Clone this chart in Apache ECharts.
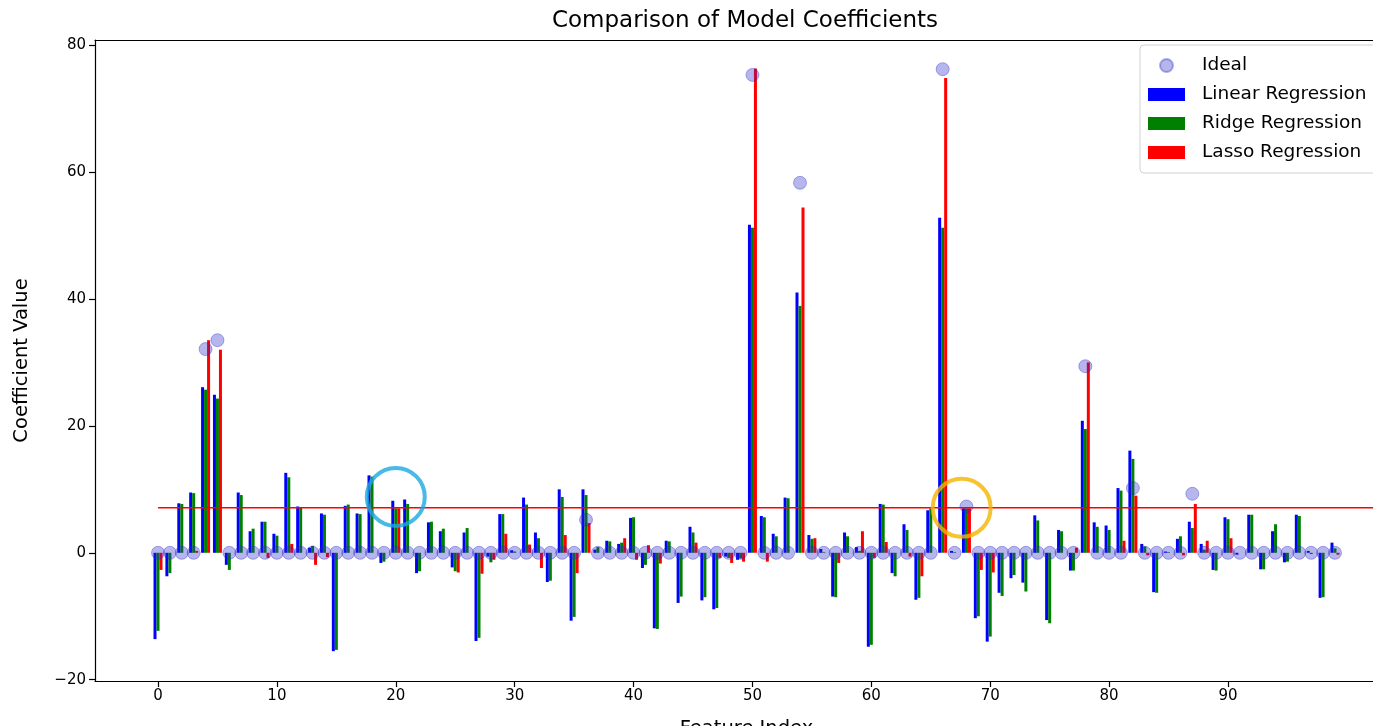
<!DOCTYPE html>
<html>
<head>
<meta charset="utf-8">
<script src="https://cdn.jsdelivr.net/npm/echarts@6/dist/echarts.min.js"></script>
<style>html,body{margin:0;padding:0;background:#fff;overflow:hidden;width:1373px;height:726px;}#c{width:1430px;height:726px;}</style>
</head>
<body>
<div id="c"></div>
<script>
// ---- data ----
const featureCount = 100;
const linearCoef = [-13.6,-3.7,7.8,9.5,26.1,24.9,-1.9,9.5,3.4,4.9,
  3.0,12.6,7.3,0.8,6.2,-15.5,7.4,6.2,12.2,-1.6,
  8.2,8.4,-3.2,4.8,3.4,-2.3,3.2,-13.9,-0.6,6.1,
  0.4,8.7,3.2,-4.6,10.0,-10.7,10.0,0.5,1.9,1.4,
  5.5,-2.4,-11.9,1.9,-7.9,4.1,-7.5,-8.9,-0.6,-1.1,
  51.7,5.8,3.0,8.7,41.0,2.8,0.6,-6.9,3.2,0.9,
  -14.8,7.7,-3.2,4.5,-7.4,6.7,52.8,0.3,7.0,-10.3,
  -14.0,-6.3,-4.0,-4.7,5.9,-10.6,3.6,-2.8,20.8,4.8,
  4.3,10.2,16.1,1.4,-6.2,0.2,2.2,4.9,1.4,-2.7,
  5.6,-0.3,6.0,-2.6,3.4,-1.5,6.0,0.3,-7.1,1.6];
const ridgeCoef = [-12.3,-3.2,7.7,9.4,25.7,24.3,-2.7,9.1,3.8,4.9,
  2.7,11.9,7.2,1.1,6.0,-15.3,7.6,6.1,12.0,-1.4,
  7.0,7.7,-2.9,4.9,3.8,-2.9,3.9,-13.4,-1.5,6.1,
  0.2,7.6,2.3,-4.4,8.8,-10.1,9.1,0.9,1.8,1.6,
  5.6,-1.9,-12.0,1.8,-6.9,3.2,-7.0,-8.7,-0.8,-0.9,
  51.2,5.6,2.6,8.6,38.9,2.2,0.1,-7.0,2.6,0.3,
  -14.5,7.6,-3.7,3.6,-7.1,7.0,51.2,0.1,7.0,-10.0,
  -13.2,-6.8,-3.5,-6.1,5.1,-11.1,3.4,-2.8,19.5,4.1,
  3.6,9.8,14.8,1.0,-6.3,0.1,2.6,3.9,0.5,-2.8,
  5.3,0.0,6.0,-2.6,4.5,-1.4,5.8,-0.2,-7.0,0.7];
const lassoCoef = [-2.7,0,0,0.3,33.5,32.0,0,0,0,-0.8,
  0,1.4,0,-1.9,-0.7,0,0,0,0,0,
  7.0,0,0,0,0,-3.1,0,-3.3,-1.1,3.0,
  0,1.3,-2.4,0,2.8,-3.2,4.7,0,0,2.3,
  -1.1,1.2,-1.7,0,0,1.6,0,-0.8,-1.6,-1.4,
  76.3,-1.4,0,0,54.4,2.3,0,-1.6,0,3.4,
  -0.8,1.7,0,-0.6,-3.7,0,74.8,0,7.0,-2.7,
  -3.1,0,0,0,0,0,0,0.8,30.0,0,
  0,1.9,9.0,-0.4,0,0,-0.4,7.7,1.9,0,
  2.3,0,0,0,0,0,0,0,0,-0.3];
const idealCoef = [0,0,0,0,32.1,33.5,0,0,0,0,
  0,0,0,0,0,0,0,0,0,0,
  0,0,0,0,0,0,0,0,0,0,
  0,0,0,0,0,0,5.2,0,0,0,
  0,0,0,0,0,0,0,0,0,0,
  75.3,0,0,0,58.3,0,0,0,0,0,
  0,0,0,0,0,0,76.2,0,7.3,0,
  0,0,0,0,0,0,0,0,29.4,0,
  0,0,10.2,0,0,0,0,9.3,0,0,
  0,0,0,0,0,0,0,0,0,0];
const thresholdY = 7.1;
const cyanMark = [20, 8.8];
const orangeMark = [67.6, 7.1];
const xTickValues = [0,10,20,30,40,50,60,70,80,90];
const yTickValues = [-20,0,20,40,60,80];

const idx = Array.from({length: featureCount}, (_, i) => i);
const pairs = arr => idx.map(i => [i, arr[i]]);

const chart = echarts.init(document.getElementById('c'), null, {renderer: 'canvas'});
const FONT = 'DejaVu Sans';
const option = {
  animation: false,
  backgroundColor: '#ffffff',
  textStyle: {fontFamily: FONT},
  title: {
    text: 'Comparison of Model Coefficients',
    left: 740, top: 5, textAlign: 'center',
    textStyle: {fontFamily: FONT, fontSize: 23, fontWeight: 'normal', color: '#000'}
  },
  legend: {
    orient: 'vertical', left: 1140, top: 45,
    data: [
      {name: 'Ideal', icon: 'circle'},
      {name: 'Linear Regression', icon: 'rect'},
      {name: 'Ridge Regression', icon: 'rect'},
      {name: 'Lasso Regression', icon: 'rect'}
    ],
    itemWidth: 37, itemHeight: 13, itemGap: 8,
    padding: [10, 10, 10, 8],
    borderColor: '#d0d0d0', borderWidth: 1, borderRadius: 4,
    backgroundColor: 'rgba(255,255,255,0.8)',
    textStyle: {fontFamily: FONT, fontSize: 18.5, color: '#000', padding: [0,0,0,12], lineHeight: 21}
  },
  grid: {left: 95, top: 40, width: 1303, height: 641, outerBoundsMode: 'none', containLabel: false},
  xAxis: [{
    type: 'value', min: -5.3, max: 104.3,
    name: 'Feature Index', nameLocation: 'middle', nameGap: 38,
    nameTextStyle: {fontFamily: FONT, fontSize: 19.5, color: '#000'},
    axisLine: {show: true, onZero: false, lineStyle: {color: '#000', width: 1.2}},
    axisTick: {show: true, length: 6, lineStyle: {color: '#000', width: 1.2}, customValues: xTickValues},
    axisLabel: {fontFamily: FONT, fontSize: 15, color: '#000', margin: 8, customValues: xTickValues},
    splitLine: {show: false}
  }, {
    type: 'value', position: 'top', min: -5.3, max: 104.3,
    axisLine: {show: true, onZero: false, lineStyle: {color: '#000', width: 1.2}},
    axisTick: {show: false}, axisLabel: {show: false}, splitLine: {show: false}
  }],
  yAxis: [{
    type: 'value', min: -20.2, max: 80.8,
    name: 'Coefficient Value', nameLocation: 'middle', nameGap: 63, nameRotate: 90,
    nameTextStyle: {fontFamily: FONT, fontSize: 19.5, color: '#000'},
    axisLine: {show: true, onZero: false, lineStyle: {color: '#000', width: 1.2}},
    axisTick: {show: true, length: 6, lineStyle: {color: '#000', width: 1.2}, customValues: yTickValues},
    axisLabel: {fontFamily: FONT, fontSize: 15, color: '#000', margin: 9, customValues: yTickValues,
      formatter: v => (v < 0 ? '\u2212' + Math.abs(v) : String(v))},
    splitLine: {show: false}
  }, {
    type: 'value', position: 'right', min: -20.2, max: 80.8,
    axisLine: {show: true, onZero: false, lineStyle: {color: '#000', width: 1.2}},
    axisTick: {show: false}, axisLabel: {show: false}, splitLine: {show: false}
  }],
  series: [
    {name: 'Linear Regression', type: 'bar', data: pairs(linearCoef), barWidth: 3, barGap: '0%',
      itemStyle: {color: '#0000ff'}, z: 2},
    {name: 'Ridge Regression', type: 'bar', data: pairs(ridgeCoef), barWidth: 3, barGap: '0%',
      itemStyle: {color: '#008000'}, z: 2},
    {name: 'Lasso Regression', type: 'bar', data: pairs(lassoCoef), barWidth: 3, barGap: '0%',
      itemStyle: {color: '#ff0000'}, z: 2},
    {name: 'Ideal', type: 'scatter', data: pairs(idealCoef), symbol: 'circle', symbolSize: 13,
      itemStyle: {color: 'rgba(40,40,200,0.42)', borderColor: 'rgba(40,40,200,0.45)', borderWidth: 1}, z: 4},
    {name: 'threshold', type: 'line', data: [[0, thresholdY], [110, thresholdY]], symbol: 'none',
      lineStyle: {color: '#ff0000', width: 1.6}, z: 5, silent: true},
    {name: 'markCyan', type: 'scatter', data: [cyanMark], symbol: 'circle', symbolSize: 58,
      itemStyle: {color: 'rgba(0,0,0,0)', borderColor: '#1aa9e2', borderWidth: 4}, z: 6, silent: true},
    {name: 'markOrange', type: 'scatter', data: [orangeMark], symbol: 'circle', symbolSize: 58,
      itemStyle: {color: 'rgba(0,0,0,0)', borderColor: '#f6b400', borderWidth: 4}, z: 6, silent: true}
  ]
};
chart.setOption(option);
</script>
</body>
</html>
